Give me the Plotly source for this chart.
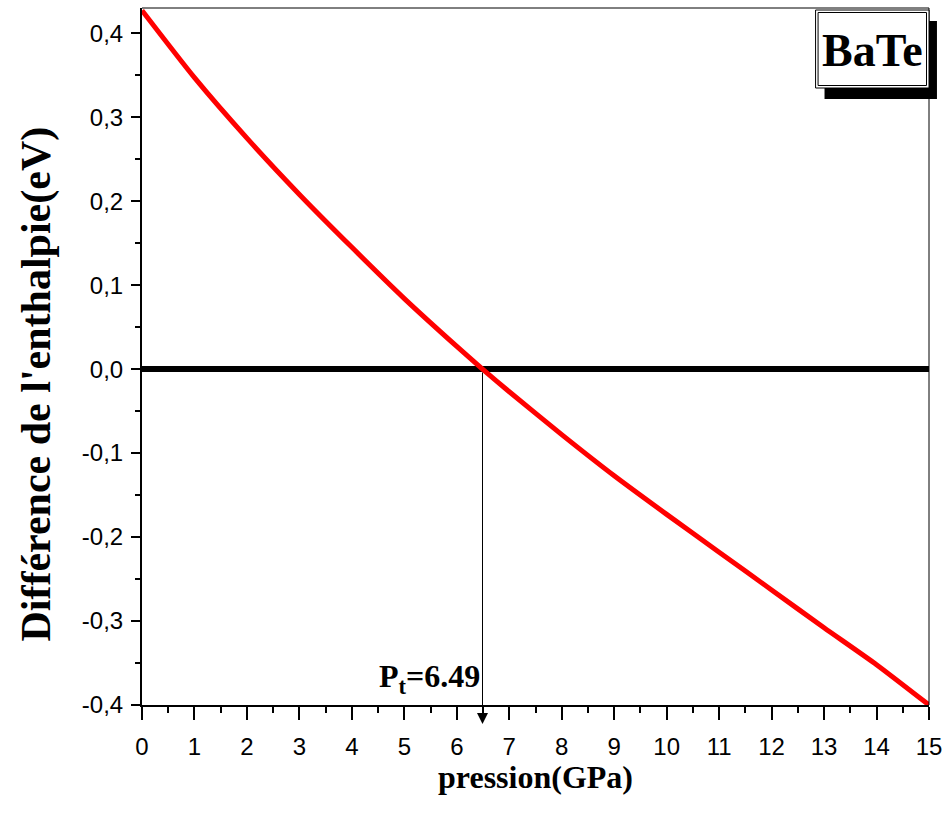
import plotly.graph_objects as go

# Enthalpy difference between the two BaTe phases versus pressure
pression_gpa = [0, 1, 2, 3, 4, 5, 6, 6.49, 7, 8, 9, 10, 11, 12, 13, 14, 15]
delta_h_ev = [0.427, 0.347, 0.275, 0.208, 0.145, 0.084, 0.027, 0.0, -0.027,
              -0.078, -0.127, -0.173, -0.218, -0.263, -0.308, -0.352, -0.400]

p_transition = 6.49
x_ticks = list(range(0, 16))
y_ticks = [-0.4, -0.3, -0.2, -0.1, 0.0, 0.1, 0.2, 0.3, 0.4]
y_tick_text = ["-0,4", "-0,3", "-0,2", "-0,1", "0,0", "0,1", "0,2", "0,3", "0,4"]

W, H = 950, 823
L, R, T, B = 142, 17, 8, 118
PW, PH = W - L - R, H - T - B


def px(xp):
    return (xp - L) / PW


def py(yp):
    return (H - B - yp) / PH


SERIF = "Liberation Serif, Times New Roman, serif"
SANS = "Liberation Sans Narrow, Arial Narrow, Liberation Sans, Arial, sans-serif"

fig = go.Figure()

fig.add_trace(go.Scatter(
    x=pression_gpa, y=delta_h_ev, mode="lines",
    line=dict(color="#ff0000", width=5, shape="spline", smoothing=0.6),
    showlegend=False, hoverinfo="skip",
))

# thick zero reference line
fig.add_shape(type="line", xref="x", yref="y",
              x0=x_ticks[0], x1=x_ticks[-1], y0=0, y1=0,
              line=dict(color="black", width=6), layer="below")

# thin top / right frame
fig.add_shape(type="line", xref="paper", yref="paper", x0=0, x1=1, y0=1, y1=1,
              line=dict(color="black", width=1))
fig.add_shape(type="line", xref="paper", yref="paper", x0=1, x1=1, y0=0, y1=1,
              line=dict(color="black", width=1))

# label box with drop shadow
fig.add_shape(type="rect", xref="paper", yref="paper",
              x0=px(828), x1=px(941), y0=py(99), y1=py(21),
              fillcolor="black", line=dict(width=0))
fig.add_shape(type="rect", xref="paper", yref="paper",
              x0=px(819), x1=px(933), y0=py(88), y1=py(10),
              fillcolor="white", line=dict(color="black", width=1))
fig.add_shape(type="rect", xref="paper", yref="paper",
              x0=px(821.5), x1=px(930.5), y0=py(85.5), y1=py(12.5),
              fillcolor="rgba(0,0,0,0)", line=dict(color="black", width=1))
fig.add_annotation(xref="paper", yref="paper", x=px(876), y=py(50),
                   text="<b>BaTe</b>", showarrow=False,
                   xanchor="center", yanchor="middle",
                   font=dict(family=SERIF, size=46, color="black"))

# transition pressure arrow
fig.add_annotation(x=p_transition, y=-0.4, xref="x", yref="y",
                   ax=0, ay=-353, axref="pixel", ayref="pixel", yshift=-19,
                   showarrow=True, arrowhead=2, arrowsize=2.2, arrowwidth=1,
                   arrowcolor="black", text="", standoff=0)
fig.add_annotation(x=p_transition, y=-0.4, xref="x", yref="y",
                   xanchor="right", yanchor="bottom", xshift=-1, yshift=4,
                   text=f"<b>P<sub>t</sub>=6.49</b>", showarrow=False,
                   font=dict(family=SERIF, size=32, color="black"))

# axis titles
fig.add_annotation(xref="paper", yref="paper", x=px(537), y=py(777),
                   text="<b>pression(GPa)</b>", showarrow=False,
                   xanchor="center", yanchor="middle",
                   font=dict(family=SERIF, size=32, color="black"))
fig.add_annotation(xref="paper", yref="paper", x=px(35), y=py(384),
                   text="<b>Différence de l'enthalpie(eV)</b>", showarrow=False,
                   textangle=-90, xanchor="center", yanchor="middle",
                   font=dict(family=SERIF, size=42, color="black"))

fig.update_xaxes(
    range=[0, 15], tickvals=x_ticks, ticktext=[str(v) for v in x_ticks],
    showgrid=False, zeroline=False,
    showline=True, linecolor="black", linewidth=2,
    ticks="outside", ticklen=13, tickwidth=2, tickcolor="black",
    minor=dict(ticks="outside", ticklen=6, tickwidth=2, tickcolor="black", dtick=0.5),
    tickfont=dict(family=SANS, size=24, color="black"),
    ticklabelstandoff=6,
)
fig.update_yaxes(
    range=[-0.4, 0.43], tickvals=y_ticks, ticktext=y_tick_text,
    showgrid=False, zeroline=False,
    showline=True, linecolor="black", linewidth=2,
    ticks="outside", ticklen=9, tickwidth=2, tickcolor="black",
    minor=dict(ticks="outside", ticklen=5, tickwidth=2, tickcolor="black", dtick=0.05),
    tickfont=dict(family=SANS, size=24, color="black"),
    ticklabelstandoff=3,
)

fig.update_layout(
    width=W, height=H,
    margin=dict(l=L, r=R, t=T, b=B),
    paper_bgcolor="white", plot_bgcolor="white",
    showlegend=False,
)

fig.write_html("out.html")
